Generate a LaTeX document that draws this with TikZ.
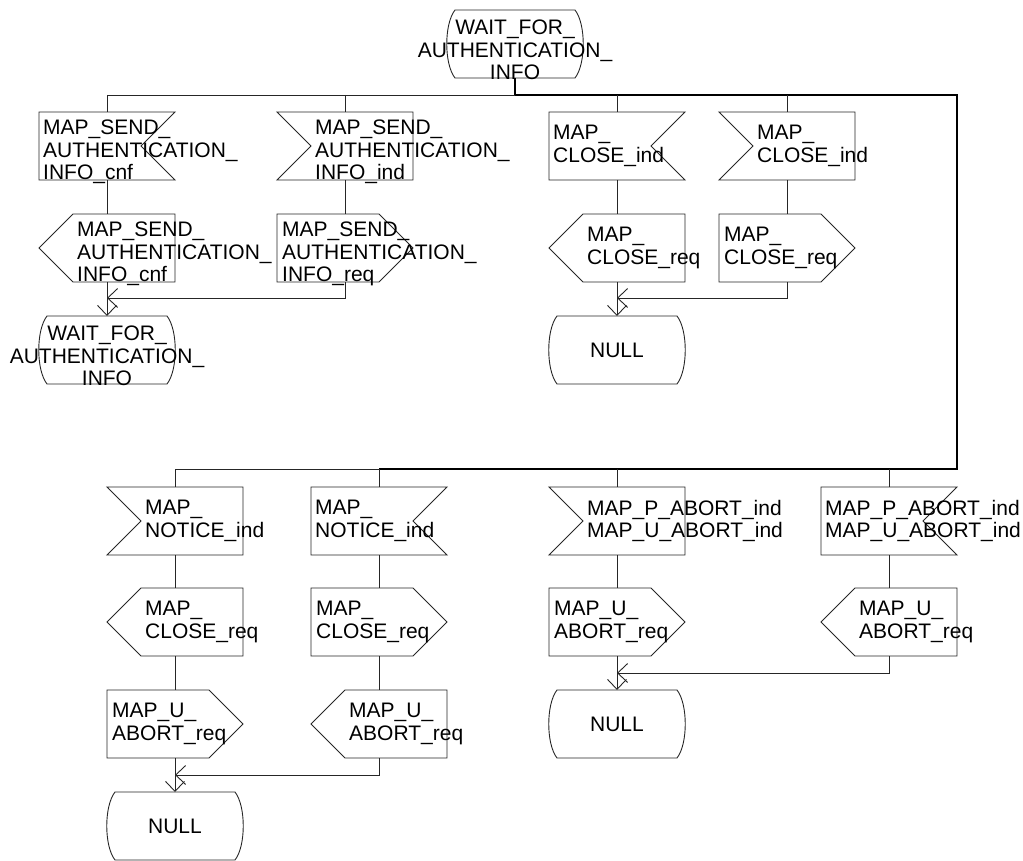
\documentclass[tikz,border=0pt]{standalone}
\usepackage{fontspec}
\setmainfont{Liberation Sans}
\usetikzlibrary{arrows.meta}
\newcommand\lbfont{\fontsize{21}{22.5}\selectfont}
\tikzset{
  sym/.style={minimum width=136pt, minimum height=68pt, inner sep=0pt, outer sep=0pt},
  shp/.style={draw=black!85, line width=0.9pt},
  lbl/.style={font=\lbfont, align=left, inner sep=0pt, anchor=west},
  clbl/.style={font=\lbfont, align=center, inner sep=0pt},
  flow/.style={draw=black!85, line width=0.9pt},
  bus/.style={draw=black, line width=1.6pt},
  arr/.style={-{Straight Barb[length=10pt,width=19pt]}}
}
% input, notch on the right
\newcommand\SymInR[5]{%
  \node[sym] (#1) at (#2,#3) {};
  \draw[shp] (#1.south east) -- (#1.south west) -- (#1.north west) -- (#1.north east) -- ([xshift=-34pt]#1.east) -- cycle;
  \node[lbl] (#1-t) at ([xshift=4pt,yshift=#4pt]#1.west) {#5};
}
% input, notch on the left
\newcommand\SymInL[5]{%
  \node[sym] (#1) at (#2,#3) {};
  \draw[shp] (#1.north west) -- (#1.north east) -- (#1.south east) -- (#1.south west) -- ([xshift=34pt]#1.west) -- cycle;
  \node[lbl] (#1-t) at ([xshift=38pt,yshift=#4pt]#1.west) {#5};
}
% output, pointing right
\newcommand\SymOutR[5]{%
  \node[sym] (#1) at (#2,#3) {};
  \draw[shp] (#1.north west) -- ([xshift=-34pt]#1.north east) -- (#1.east) -- ([xshift=-34pt]#1.south east) -- (#1.south west) -- cycle;
  \node[lbl] (#1-t) at ([xshift=5pt,yshift=#4pt]#1.west) {#5};
}
% output, pointing left
\newcommand\SymOutL[5]{%
  \node[sym] (#1) at (#2,#3) {};
  \draw[shp] (#1.north east) -- ([xshift=34pt]#1.north west) -- (#1.west) -- ([xshift=34pt]#1.south west) -- (#1.south east) -- cycle;
  \node[lbl] (#1-t) at ([xshift=38pt,yshift=#4pt]#1.west) {#5};
}
% state
\newcommand\SymState[5]{%
  \node[sym] (#1) at (#2,#3) {};
  \draw[shp] ([xshift=8pt]#1.north west) -- ([xshift=-8pt]#1.north east)
    .. controls ([xshift=3pt,yshift=-14pt]#1.north east) and ([xshift=3pt,yshift=14pt]#1.south east) .. ([xshift=-8pt]#1.south east)
    -- ([xshift=8pt]#1.south west)
    .. controls ([xshift=-3pt,yshift=14pt]#1.south west) and ([xshift=-3pt,yshift=-14pt]#1.north west) .. cycle;
  \node[clbl] (#1-t) at ([yshift=#4pt]#1.center) {#5};
}
\begin{document}
\begin{tikzpicture}[x=1pt,y=-1pt]
\useasboundingbox (0,0) rectangle (1023,861);

% top state
\SymState{S0}{515}{44}{-6}{WAIT\_FOR\_\\AUTHENTICATION\_\\INFO}

% upper branches
\SymInR{A1}{107}{146}{-6}{MAP\_SEND\_\\AUTHENTICATION\_\\INFO\_cnf}
\SymOutL{A2}{107}{248}{-6}{MAP\_SEND\_\\AUTHENTICATION\_\\INFO\_cnf}
\SymState{A3}{107}{350}{-6}{WAIT\_FOR\_\\AUTHENTICATION\_\\INFO}

\SymInL{B1}{345}{146}{-6}{MAP\_SEND\_\\AUTHENTICATION\_\\INFO\_ind}
\SymOutR{B2}{345}{248}{-6}{MAP\_SEND\_\\AUTHENTICATION\_\\INFO\_req}

\SymInR{C1}{617}{146}{0}{MAP\_\\CLOSE\_ind}
\SymOutL{C2}{617}{248}{0}{MAP\_\\CLOSE\_req}
\SymState{C3}{617}{350}{0}{NULL}

\SymInL{D1}{787}{146}{0}{MAP\_\\CLOSE\_ind}
\SymOutR{D2}{787}{248}{0}{MAP\_\\CLOSE\_req}

% lower branches
\SymInL{E1}{175}{521}{0}{MAP\_\\NOTICE\_ind}
\SymOutL{E2}{175}{622}{0}{MAP\_\\CLOSE\_req}
\SymOutR{E3}{175}{724}{0}{MAP\_U\_\\ABORT\_req}
\SymState{E4}{175}{826}{0}{NULL}

\SymInR{F1}{379}{521}{0}{MAP\_\\NOTICE\_ind}
\SymOutR{F2}{379}{622}{0}{MAP\_\\CLOSE\_req}
\SymOutL{F3}{379}{724}{0}{MAP\_U\_\\ABORT\_req}

\SymInL{G1}{617}{521}{0}{MAP\_P\_ABORT\_ind\\MAP\_U\_ABORT\_ind}
\SymOutR{G2}{617}{622}{0}{MAP\_U\_\\ABORT\_req}
\SymState{G3}{617}{724}{0}{NULL}

\SymInR{H1}{889}{521}{0}{MAP\_P\_ABORT\_ind\\MAP\_U\_ABORT\_ind}
\SymOutL{H2}{889}{622}{0}{MAP\_U\_\\ABORT\_req}

% buses
\coordinate (busM) at (515,95);
\coordinate (busL) at (107,95);
\coordinate (busR) at (957,95);
\coordinate (bus2R) at (957,469);
\coordinate (bus2M) at (379,469);
\coordinate (bus2L) at (175,469);
\draw[bus] (S0.south) -- (busM);
\draw[flow] (busL) -- (busM);
\draw[bus] (busM) -- (busR) -- (bus2R) -- (bus2M);
\draw[flow] (bus2M) -- (bus2L);

% drops from buses
\foreach \n in {A1,B1,C1,D1} { \draw[flow] (\n.north |- busL) -- (\n.north); }
\foreach \n in {E1,F1,G1,H1} { \draw[flow] (\n.north |- bus2L) -- (\n.north); }

% column links
\draw[flow] (A1.south) -- (A2.north);
\draw[flow] (B1.south) -- (B2.north);
\draw[flow] (C1.south) -- (C2.north);
\draw[flow] (D1.south) -- (D2.north);
\draw[flow] (E1.south) -- (E2.north);
\draw[flow] (E2.south) -- (E3.north);
\draw[flow] (F1.south) -- (F2.north);
\draw[flow] (F2.south) -- (F3.north);
\draw[flow] (G1.south) -- (G2.north);
\draw[flow] (H1.south) -- (H2.north);

% merges
\coordinate (mA) at (107,298);
\coordinate (mC) at (617,298);
\coordinate (mG) at (617,673);
\coordinate (mE) at (175,775);
\draw[flow,arr] (A2.south) -- (A3.north);
\draw[flow,arr] (B2.south) |- (mA);
\draw[flow,arr] (C2.south) -- (C3.north);
\draw[flow,arr] (D2.south) |- (mC);
\draw[flow,arr] (G2.south) -- (G3.north);
\draw[flow,arr] (H2.south) |- (mG);
\draw[flow,arr] (E3.south) -- (E4.north);
\draw[flow,arr] (F3.south) |- (mE);
\end{tikzpicture}
\end{document}
